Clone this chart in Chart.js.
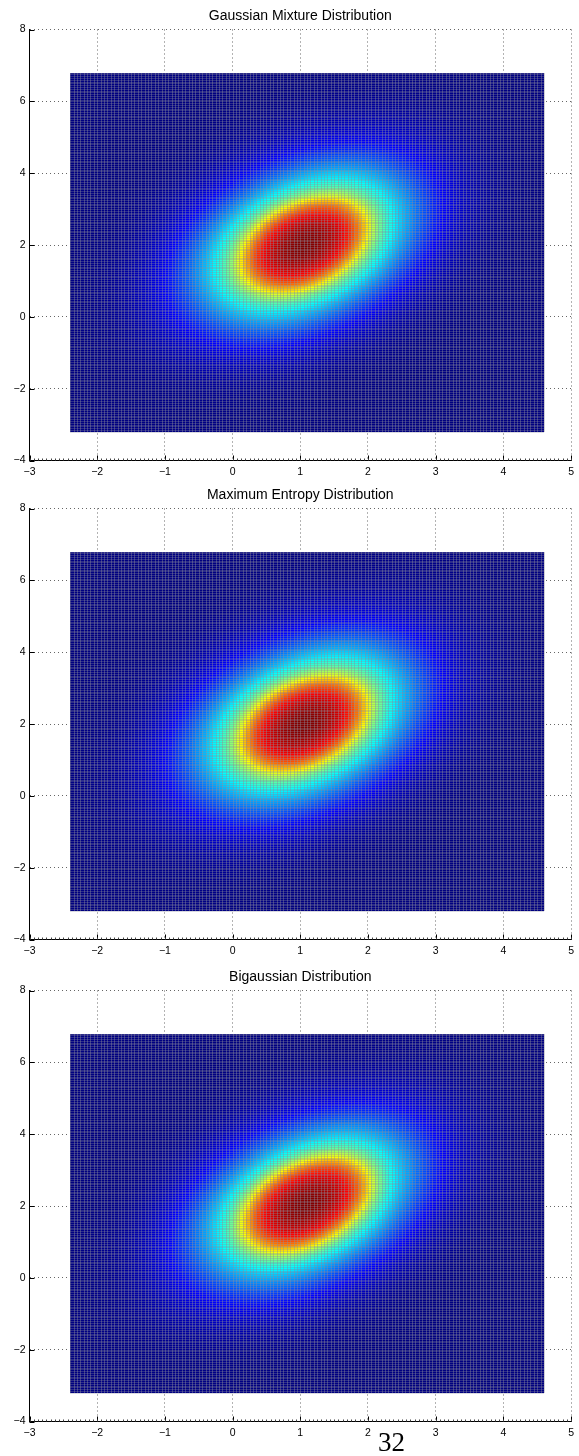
<!DOCTYPE html>
<html>
<head>
<meta charset="utf-8">
<script src="https://cdn.jsdelivr.net/npm/chart.js@4.4.1/dist/chart.umd.min.js"></script>
<style>
  body { margin: 0; background: #fff; width: 579px; height: 1456px; position: relative; overflow: hidden; }
  canvas { position: absolute; left: 0; }
  #page { position: absolute; left: 378px; top: 1429px; font: 27px "Liberation Serif", serif; line-height: 27px; color: #000; }
</style>
</head>
<body>
<canvas id="c0" width="579" height="480" style="top:0px"></canvas>
<canvas id="c1" width="579" height="480" style="top:479px"></canvas>
<canvas id="c2" width="579" height="480" style="top:961px"></canvas>
<div id="page">32</div>
<script>
const panelTitles = ['Gaussian Mixture Distribution', 'Maximum Entropy Distribution', 'Bigaussian Distribution'];
const xTickValues = [-3, -2, -1, 0, 1, 2, 3, 4, 5];
const yTickValues = [-4, -2, 0, 2, 4, 6, 8];

// surface mesh extent and spacing
const meshXRange = [-2.4, 4.6];
const meshYRange = [-3.2, 6.8];
const meshStep = 0.05;

// shape of each density
const peakX = [1.05, 1.05, 1.08];
const peakY = [2.0, 2.0, 2.05];
const sdX = [0.97, 0.97, 0.96];
const sdY = [1.36, 1.37, 1.35];
const rho = [0.36, 0.36, 0.40];
const tailWeight = [0.80, 0.80, 0.78];   // broad part of the bump
const tailScale = [1.1, 1.1, 1.1];
const coreRadius = [1.0, 1.0, 1.02];     // flatter red top

function buildCells(k) {
    const cells = [];
    const nx = Math.round((meshXRange[1] - meshXRange[0]) / meshStep);
    const ny = Math.round((meshYRange[1] - meshYRange[0]) / meshStep);
    const r = rho[k];
    const s2 = tailScale[k] * tailScale[k];
    const c2 = coreRadius[k] * coreRadius[k];
    for (let i = 0; i < nx; i++) {
        for (let j = 0; j < ny; j++) {
            const x = meshXRange[0] + (i + 0.5) * meshStep;
            const y = meshYRange[0] + (j + 0.5) * meshStep;
            const dx = (x - peakX[k]) / sdX[k];
            const dy = (y - peakY[k]) / sdY[k];
            const q = (dx * dx - 2 * r * dx * dy + dy * dy) / (1 - r * r);
            const v = tailWeight[k] * Math.exp(-q / (2 * s2)) + (1 - tailWeight[k]) * Math.exp(-Math.pow(q / c2, 3));
            cells.push({ x: x, y: y, v: v });
        }
    }
    return cells;
}

function jet(t) {
    const c = (v) => Math.round(255 * Math.max(0, Math.min(1, v)));
    return 'rgb(' + c(1.5 - Math.abs(4 * t - 3)) + ',' + c(1.5 - Math.abs(4 * t - 2)) + ',' + c(1.5 - Math.abs(4 * t - 1)) + ')';
}

const minus = (v) => String(v).replace('-', '\u2212');

// draws the surface cells through the chart scales
const surfacePlugin = {
    id: 'surface',
    beforeDatasetsDraw(chart) {
        const { ctx } = chart;
        const xs = chart.scales.x, ys = chart.scales.y;
        const cells = chart.data.datasets[0].data;
        const h = meshStep / 2;
        let vmax = 0;
        cells.forEach(d => { if (d.v > vmax) vmax = d.v; });
        ctx.save();
        cells.forEach(d => {
            const l = Math.round(xs.getPixelForValue(d.x - h));
            const r = Math.round(xs.getPixelForValue(d.x + h));
            const t = Math.round(ys.getPixelForValue(d.y + h));
            const b = Math.round(ys.getPixelForValue(d.y - h));
            ctx.fillStyle = jet(d.v / vmax);
            ctx.fillRect(l, t, r - l, b - t);
        });
        // mesh edges
        const left = Math.round(xs.getPixelForValue(meshXRange[0]));
        const right = Math.round(xs.getPixelForValue(meshXRange[1]));
        const top = Math.round(ys.getPixelForValue(meshYRange[1]));
        const bottom = Math.round(ys.getPixelForValue(meshYRange[0]));
        ctx.lineWidth = 1;
        ctx.strokeStyle = 'rgba(140,140,155,0.42)';
        ctx.beginPath();
        for (let x = meshXRange[0]; x <= meshXRange[1] + 1e-9; x += meshStep) {
            const px = Math.round(xs.getPixelForValue(x)) + 0.5;
            ctx.moveTo(px, top);
            ctx.lineTo(px, bottom);
        }
        ctx.stroke();
        ctx.strokeStyle = 'rgba(140,140,155,0.32)';
        ctx.beginPath();
        for (let y = meshYRange[0]; y <= meshYRange[1] + 1e-9; y += meshStep) {
            const py = Math.round(ys.getPixelForValue(y)) + 0.5;
            ctx.moveTo(left, py);
            ctx.lineTo(right, py);
        }
        ctx.stroke();
        ctx.restore();
    },
    afterDraw(chart) {
        const { ctx, chartArea } = chart;
        const xs = chart.scales.x, ys = chart.scales.y;
        ctx.save();
        // panel title, centred over the plot area
        ctx.fillStyle = '#000';
        ctx.font = '14px "Liberation Sans", Arial, sans-serif';
        ctx.textAlign = 'center';
        ctx.textBaseline = 'alphabetic';
        ctx.fillText(chart.options.panelTitle, (chartArea.left + chartArea.right) / 2, chartArea.top - 10);
        ctx.strokeStyle = '#000';
        ctx.lineWidth = 1;
        ctx.beginPath();
        // inward major ticks
        xTickValues.forEach(v => {
            const px = Math.round(xs.getPixelForValue(v)) + 0.5;
            ctx.moveTo(px, chartArea.bottom);
            ctx.lineTo(px, chartArea.bottom - 5);
        });
        yTickValues.forEach(v => {
            const py = Math.round(ys.getPixelForValue(v)) + 0.5;
            ctx.moveTo(chartArea.left, py);
            ctx.lineTo(chartArea.left + 5, py);
        });
        ctx.stroke();
        // minor ticks along the bottom axis
        ctx.strokeStyle = '#444';
        ctx.beginPath();
        for (let v = -3; v <= 5 + 1e-9; v += 1 / 16) {
            const px = Math.round(xs.getPixelForValue(v)) + 0.5;
            ctx.moveTo(px, chartArea.bottom);
            ctx.lineTo(px, chartArea.bottom - 2);
        }
        ctx.stroke();
        ctx.restore();
    }
};

function makeChart(k) {
    return new Chart(document.getElementById('c' + k), {
        type: 'scatter',
        data: {
            datasets: [{
                data: buildCells(k),
                pointRadius: 0,
                hoverRadius: 0,
            }]
        },
        options: {
            panelTitle: panelTitles[k],
            responsive: false,
            animation: false,
            events: [],
            parsing: false,
            normalized: true,
            layout: { padding: { left: 0, right: 4, top: 29.5, bottom: 0 } },
            plugins: {
                legend: { display: false },
                tooltip: { enabled: false }
            },
            scales: {
                x: {
                    type: 'linear',
                    min: -3, max: 5,
                    afterBuildTicks: (s) => { s.ticks = xTickValues.map(v => ({ value: v })); },
                    afterFit: (s) => { s.height = 19.5; },
                    grid: { color: 'rgba(0,0,0,0.6)', lineWidth: 1, drawTicks: false },
                    border: { display: true, color: '#000', width: 1, dash: [1, 3] },
                    ticks: { color: '#000', font: { family: 'Liberation Sans', size: 10.5 }, padding: 5, maxRotation: 0, autoSkip: false, callback: minus }
                },
                y: {
                    type: 'linear',
                    min: -4, max: 8,
                    afterBuildTicks: (s) => { s.ticks = yTickValues.map(v => ({ value: v })); },
                    afterFit: (s) => { s.width = 29.5; },
                    grid: { color: 'rgba(0,0,0,0.6)', lineWidth: 1, drawTicks: false },
                    border: { display: true, color: '#000', width: 1, dash: [1, 3] },
                    ticks: { color: '#000', font: { family: 'Liberation Sans', size: 10.5 }, padding: 4, autoSkip: false, callback: minus }
                }
            }
        },
        plugins: [surfacePlugin]
    });
}

[0, 1, 2].forEach(makeChart);
</script>
</body>
</html>
